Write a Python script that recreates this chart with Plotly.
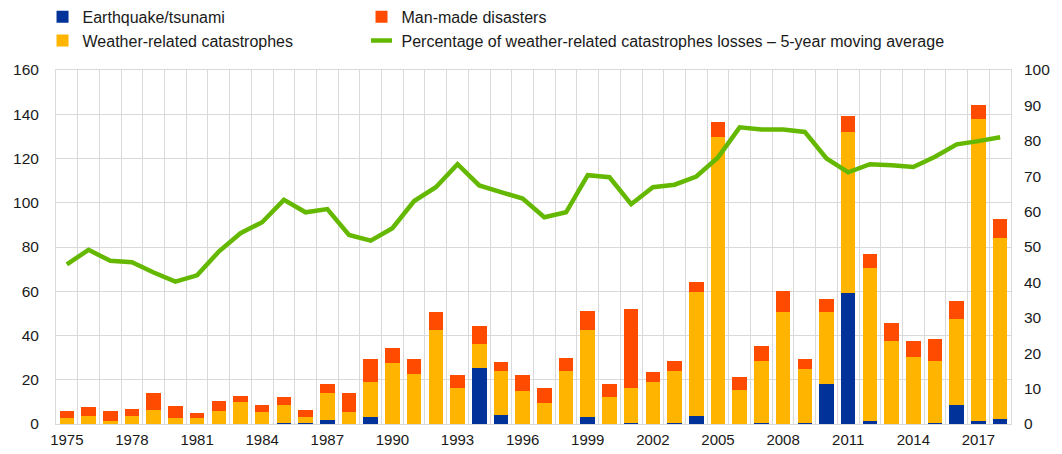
import plotly.graph_objects as go

# Insured losses by year (USD bn) and weather share (%)
years = list(range(1975, 2019))

earthquake = [0.0, 0.2, 0.0, 0.0, 0.0, 0.0, 0.0, 0.0, 0.0, 0.0,
              0.6, 0.3, 1.7, 0.0, 3.0, 0.1, 0.0, 0.0, 0.2, 25.3,
              3.9, 0.0, 0.0, 0.0, 3.0, 0.0, 0.6, 0.0, 0.3, 3.5,
              0.0, 0.0, 0.6, 0.2, 0.6, 17.9, 59.1, 1.5, 0.0, 0.0,
              0.5, 8.6, 1.2, 2.4]

weather_top = [2.6, 3.8, 1.2, 3.5, 6.4, 2.9, 2.6, 5.9, 9.8, 5.3,
               8.5, 3.0, 13.8, 5.3, 19.2, 27.7, 22.4, 42.4, 16.4, 36.1,
               23.8, 15.0, 9.5, 23.9, 42.3, 12.1, 16.4, 19.2, 23.9, 59.8,
               129.6, 15.4, 28.7, 50.5, 25.0, 50.8, 131.8, 70.3, 37.7, 30.2,
               28.5, 47.5, 138.0, 84.0]

total = [5.8, 7.6, 6.1, 6.7, 13.8, 8.3, 4.8, 10.5, 12.7, 8.5,
         12.1, 6.5, 18.3, 14.1, 29.2, 34.4, 29.2, 50.6, 22.3, 44.1,
         28.0, 22.3, 16.2, 30.0, 50.9, 18.3, 52.1, 23.3, 28.3, 64.4,
         136.3, 21.4, 35.3, 59.9, 29.6, 56.3, 139.1, 76.8, 45.7, 37.6,
         38.3, 55.8, 144.3, 92.6]

weather_share_ma = [45.1, 49.2, 46.1, 45.7, 42.8, 40.2, 42.0, 48.7, 53.9, 57.0,
                    63.3, 59.8, 60.7, 53.4, 51.8, 55.3, 63.0, 66.9, 73.4, 67.4,
                    65.5, 63.7, 58.4, 59.8, 70.3, 69.7, 62.1, 66.9, 67.6, 69.9,
                    75.3, 83.8, 83.2, 83.2, 82.5, 75.0, 71.1, 73.4, 73.1, 72.6,
                    75.5, 79.0, 79.9, 81.0]

# stacked segments
weather = [round(w - e, 1) for w, e in zip(weather_top, earthquake)]
man_made = [round(t - w, 1) for t, w in zip(total, weather_top)]

BLUE = "#003299"
YELLOW = "#FFB400"
ORANGE = "#FF4B00"
GREEN = "#65B800"
GRID = "#d9d9d9"
LINE_NAME = "Percentage of weather-related catastrophes losses \u2013 5-year moving average"

fig = go.Figure()

fig.add_trace(go.Bar(
    x=years, y=earthquake, name="Earthquake/tsunami",
    marker=dict(color=BLUE, line=dict(width=0)), legend="legend",
))
fig.add_trace(go.Bar(
    x=years, y=weather, name="Weather-related catastrophes",
    marker=dict(color=YELLOW, line=dict(width=0)), legend="legend",
))
fig.add_trace(go.Bar(
    x=years, y=man_made, name="Man-made disasters",
    marker=dict(color=ORANGE, line=dict(width=0)), legend="legend2",
))
fig.add_trace(go.Scatter(
    x=years, y=weather_share_ma, yaxis="y2", mode="lines",
    name=LINE_NAME, showlegend=False,
    line=dict(color=GREEN, width=4.5),
))
# legend-only entry so the key shows a short green dash
fig.add_trace(go.Scatter(
    x=[None], y=[None], yaxis="y2", mode="markers", name=LINE_NAME,
    marker=dict(symbol="line-ew", size=15, color=GREEN,
                line=dict(color=GREEN, width=4.5)),
    legend="legend2",
))

legend_style = dict(
    yanchor="top", orientation="v", traceorder="normal",
    tracegroupgap=0, itemwidth=30,
    font=dict(size=16), bgcolor="rgba(0,0,0,0)",
)

# page body adds an 8px margin, so the figure is 8px smaller each way
fig.update_layout(
    barmode="stack",
    bargap=0.33,
    width=1054, height=446,
    margin=dict(l=48, r=51, t=62, b=30, autoexpand=False),
    plot_bgcolor="white",
    paper_bgcolor="white",
    font=dict(family="Liberation Sans, Arial, sans-serif", size=15, color="#1a1a1a"),
    legend=dict(x=-0.0141, y=1.198, xanchor="left", **legend_style),
    legend2=dict(x=0.3199, y=1.198, xanchor="left", **legend_style),
    xaxis=dict(
        range=[1974.5, 2018.5],
        tick0=1975, dtick=3,
        showgrid=False,
        ticks="", ticklabelstandoff=2,
        showline=True, linecolor=GRID, mirror=True,
        minor=dict(tick0=1974.5, dtick=1, showgrid=True, gridcolor=GRID, gridwidth=1),
        zeroline=False,
    ),
    yaxis=dict(
        range=[0, 160], dtick=20,
        showgrid=True, gridcolor=GRID, gridwidth=1,
        showline=True, linecolor=GRID, mirror=True,
        zeroline=False, tickfont=dict(size=15.5), ticklabelstandoff=13,
    ),
    yaxis2=dict(
        range=[0, 100], dtick=10,
        overlaying="y", side="right",
        showgrid=False, zeroline=False,
        tickfont=dict(size=15.5), ticklabelstandoff=12,
    ),
)

fig.write_html("out.html")
